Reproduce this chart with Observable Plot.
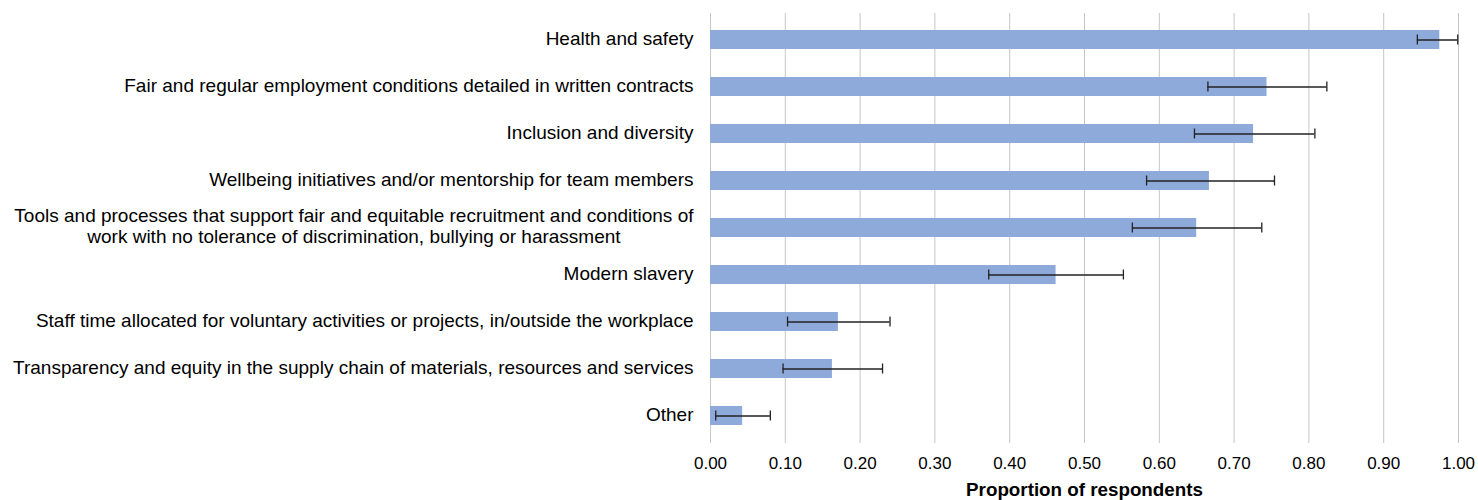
<!DOCTYPE html>
<html>
<head>
<meta charset="utf-8">
<script src="https://cdn.jsdelivr.net/npm/d3@7"></script>
<script src="https://cdn.jsdelivr.net/npm/@observablehq/plot@0.6"></script>
<style>
  html, body { margin: 0; padding: 0; background: #fff; }
  #chart svg { font-family: "Liberation Sans", Arial, sans-serif; }
  #chart g[aria-label="x-axis label"] text { font-weight: bold; font-size: 18.8px; fill: #000; }
</style>
</head>
<body>
<div id="chart"></div>
<script>
const categories = [
  "Health and safety",
  "Fair and regular employment conditions detailed in written contracts",
  "Inclusion and diversity",
  "Wellbeing initiatives and/or mentorship for team members",
  "Tools and processes that support fair and equitable recruitment and conditions of\nwork with no tolerance of discrimination, bullying or harassment",
  "Modern slavery",
  "Staff time allocated for voluntary activities or projects, in/outside the workplace",
  "Transparency and equity in the supply chain of materials, resources and services",
  "Other"
];
const values = [0.975, 0.744, 0.726, 0.667, 0.650, 0.462, 0.171, 0.163, 0.043];
const lower  = [0.945, 0.665, 0.647, 0.583, 0.564, 0.372, 0.103, 0.097, 0.007];
const upper  = [0.999, 0.824, 0.808, 0.754, 0.737, 0.552, 0.240, 0.230, 0.080];
const xTicks = [0, 0.1, 0.2, 0.3, 0.4, 0.5, 0.6, 0.7, 0.8, 0.9, 1.0];
const xLabel = "Proportion of respondents";

const data = categories.map((c, i) => ({cat: c, value: values[i], lo: lower[i], hi: upper[i]}));

const chart = Plot.plot({
  width: 1478,
  height: 500,
  marginLeft: 710,
  marginRight: 20,
  marginTop: 13,
  marginBottom: 57,
  style: {fontSize: "17px", fontFamily: "Liberation Sans, Arial, sans-serif", color: "#000", background: "#fff"},
  x: {domain: [0, 1]},
  y: {domain: categories, paddingInner: 0.59, paddingOuter: 0.295},
  marks: [
    Plot.gridX(xTicks, {stroke: "#c6c6c6", strokeOpacity: 1, strokeWidth: 1}),
    Plot.barX(data, {x: "value", y: "cat", fill: "#8eaadb"}),
    Plot.ruleY(data, {y: "cat", x1: "lo", x2: "hi", stroke: "#222", strokeWidth: 1.3}),
    Plot.tickX(data, {x: "lo", y: "cat", stroke: "#222", strokeWidth: 1.3, insetTop: 4.5, insetBottom: 4.5}),
    Plot.tickX(data, {x: "hi", y: "cat", stroke: "#222", strokeWidth: 1.3, insetTop: 4.5, insetBottom: 4.5}),
    Plot.axisY({tickSize: 0, tickPadding: 17, label: null, fill: "#000", fontSize: 19, lineHeight: 1.07, dy: -2}),
    Plot.axisX({ticks: xTicks, tickFormat: d3.format(".2f"), tickSize: 0, tickPadding: 13,
      label: xLabel, labelAnchor: "center", labelArrow: "none", labelOffset: 52, fill: "#000"})
  ]
});
document.getElementById("chart").appendChild(chart);

// Center the second line of multi-line y labels under the first line (as in the reference)
chart.querySelectorAll('g[aria-label="y-axis tick label"] text').forEach(t => {
  const spans = t.querySelectorAll("tspan");
  if (spans.length > 1) {
    const w = spans[0].getComputedTextLength();
    t.setAttribute("text-anchor", "middle");
    spans.forEach(s => s.setAttribute("x", -w / 2));
  }
});
</script>
</body>
</html>
